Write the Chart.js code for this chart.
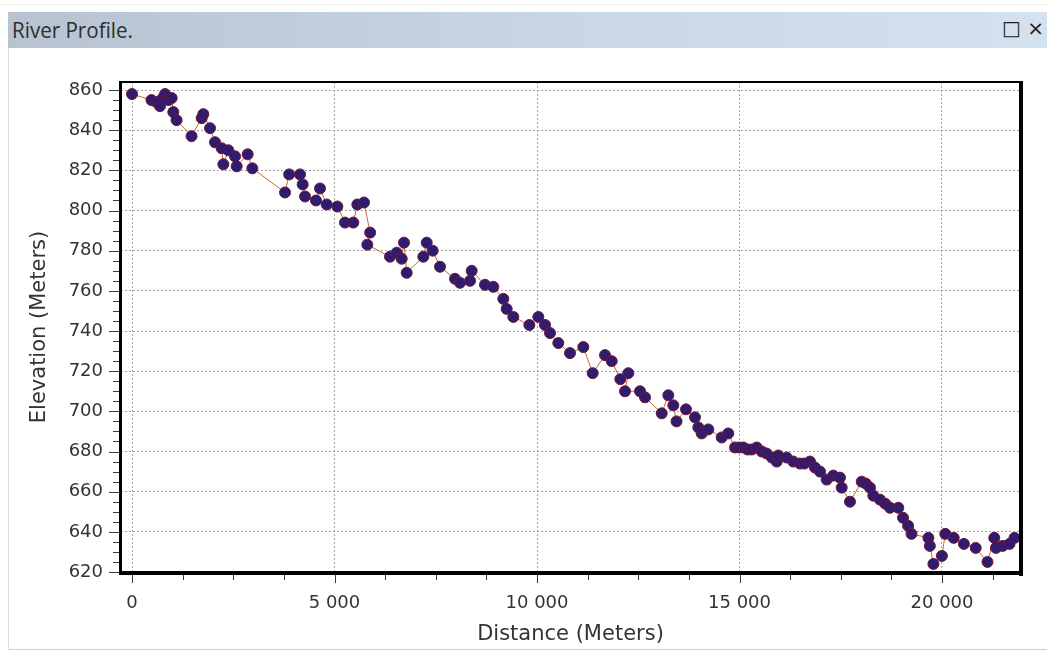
<!DOCTYPE html>
<html>
<head>
<meta charset="utf-8">
<script src="https://cdn.jsdelivr.net/npm/chart.js@4.4.0/dist/chart.umd.min.js"></script>
<style>
  html, body { margin: 0; padding: 0; background: #fff; }
  #wrap { position: relative; width: 1047px; height: 655px; overflow: hidden; }
  #topline { position: absolute; left: 0; top: 4px; width: 1047px; height: 1px; background: #ececec; }
  #bar { position: absolute; left: 8px; top: 12px; width: 1039px; height: 36px;
         background: linear-gradient(to right, #b7c3d0, #c9d6e4 55%, #d4e1ee); }
  #bar .t { position: absolute; left: 4px; top: 4px; font: 21px "Open Sans", sans-serif; color: #2e2e2e;
            transform: scaleX(0.98); transform-origin: left center; }
  #bar .i { position: absolute; left: 994px; top: 4px; font: 20px "DejaVu Sans", sans-serif; color: #222; white-space: nowrap; }
  #panel { position: absolute; left: 8px; top: 48px; width: 1039px; height: 601px;
           border-left: 1px solid #dcdcdc; border-bottom: 1px solid #cfcfcf; }
  canvas { position: absolute; left: 0; top: 0; }
</style>
</head>
<body>
<div id="wrap">
  <div id="topline"></div>
  <div id="bar"><span class="t">River Profile.</span><span class="i">&#9633; &#215;</span></div>
  <div id="panel"></div>
  <canvas id="profile" width="1047" height="655"></canvas>
</div>
<script>
// distance along the river (m) and elevation (m)
const distance = [
  0, 480, 600, 690, 760, 815, 900, 980, 1020, 1100,
  1470, 1720, 1761, 1926, 2049, 2214, 2255, 2379, 2543, 2584,
  2856, 2971, 3778, 3880, 4148, 4214, 4272, 4543, 4642, 4807,
  5070, 5259, 5464, 5564, 5728, 5880, 5810, 6370, 6535, 6659,
  6716, 6782, 7193, 7276, 7424, 7605, 7975, 8099, 8346, 8387,
  8716, 8921, 9168, 9251, 9415, 9811, 10033, 10198, 10321, 10526,
  10815, 11143, 11375, 11679, 11844, 12057, 12255, 12173, 12543, 12667,
  13079, 13242, 13366, 13445, 13679, 13901, 13983, 14066, 14230, 14560,
  14723, 14889, 14990, 15094, 15200, 15301, 15425, 15550, 15672, 15800,
  15919, 15958, 16165, 16328, 16494, 16600, 16741, 16864, 16988, 17153,
  17316, 17481, 17523, 17728, 18017, 18120, 18222, 18304, 18469, 18600,
  18716, 18921, 19037, 19163, 19247, 19664, 19700, 19788, 19998, 20081,
  20289, 20541, 20832, 21123, 21291, 21333, 21499, 21667, 21790
];
const elevation = [
  858, 855, 854, 852, 856, 858, 855, 856, 849, 845,
  837, 846, 848, 841, 834, 831, 823, 830, 827, 822,
  828, 821, 809, 818, 818, 813, 807, 805, 811, 803,
  802, 794, 794, 803, 804, 789, 783, 777, 779, 776,
  784, 769, 777, 784, 780, 772, 766, 764, 765, 770,
  763, 762, 756, 751, 747, 743, 747, 743, 739, 734,
  729, 732, 719, 728, 725, 716, 719, 710, 710, 707,
  699, 708, 703, 695, 701, 697, 692, 689, 691, 687,
  689, 682, 682, 682, 681, 681, 682, 680, 679, 677,
  675, 678, 677, 675, 674, 674, 675, 672, 670, 666,
  668, 667, 662, 655, 665, 664, 662, 658, 656, 654,
  652, 652, 647, 643, 639, 637, 633, 624, 628, 639,
  637, 634, 632, 625, 637, 632, 633, 634, 637
];

const xMajor = [0, 5000, 10000, 15000, 20000];
const xMinorStep = 1250;
const yMajor = [620, 640, 660, 680, 700, 720, 740, 760, 780, 800, 820, 840, 860];
const yMinorStep = 5;
const xRange = [-272, 21926];
const yRange = [620, 864];

const points = distance.map((d, i) => ({x: d, y: elevation[i]}));

const fmt = v => String(v).replace(/\B(?=(\d{3})+(?!\d))/g, ' ');

const xTickVals = [];
for (let v = 0; v <= xRange[1]; v += xMinorStep) xTickVals.push(v);
const yTickVals = [];
for (let v = yRange[0]; v <= yRange[1]; v += yMinorStep) yTickVals.push(v);

// frame round the plot plus the major/minor tick marks
const frame = {
  id: 'frame',
  afterDraw(chart) {
    const {ctx, chartArea: a, scales: {x, y}} = chart;
    ctx.save();
    ctx.strokeStyle = '#3a3a3a';
    ctx.lineWidth = 1;
    ctx.beginPath();
    xTickVals.forEach(v => {
      const px = Math.round(x.getPixelForValue(v)) + 0.5;
      const len = xMajor.includes(v) ? 9 : 6;
      ctx.moveTo(px, a.bottom);
      ctx.lineTo(px, a.bottom + 2 + len);
    });
    yTickVals.forEach(v => {
      const py = Math.round(y.getPixelForValue(v)) + 0.5;
      const len = yMajor.includes(v) ? 10 : 6;
      ctx.moveTo(a.left, py);
      ctx.lineTo(a.left - 2 - len, py);
    });
    ctx.stroke();
    ctx.fillStyle = '#000';
    ctx.fillRect(a.left - 2, a.top - 1, a.right - a.left + 4, 2);
    ctx.fillRect(a.left - 2, a.top - 1, 3, a.bottom - a.top + 4);
    ctx.fillRect(a.right - 1, a.top - 1, 4, a.bottom - a.top + 5);
    ctx.fillRect(a.left - 2, a.bottom - 1, a.right - a.left + 5, 4);
    ctx.restore();
  }
};

new Chart(document.getElementById('profile'), {
  type: 'scatter',
  data: {
    datasets: [{
      label: 'River profile',
      data: points,
      showLine: true,
      borderColor: '#c8682e',
      borderWidth: 1,
      pointRadius: 5.5,
      pointBackgroundColor: '#2f1c6e',
      pointBorderColor: '#6e1637',
      pointBorderWidth: 1
    }]
  },
  options: {
    responsive: false,
    animation: false,
    layout: { padding: { top: 82, right: 27, left: 0, bottom: 0 } },
    plugins: { legend: { display: false }, tooltip: { enabled: false } },
    scales: {
      x: {
        type: 'linear',
        min: xRange[0],
        max: xRange[1],
        afterFit: s => { s.height = 83; },
        afterBuildTicks: s => { s.ticks = xTickVals.map(v => ({value: v})); },
        grid: {
          drawTicks: false,
          color: c => (c.tick && xMajor.includes(c.tick.value)) ? '#a3a3a3' : 'rgba(0,0,0,0)',
          lineWidth: 1
        },
        border: { display: false, dash: [2, 2] },
        ticks: {
          autoSkip: false,
          maxRotation: 0,
          padding: 21,
          color: '#333',
          font: { family: 'DejaVu Sans', size: 18 },
          callback: v => xMajor.includes(v) ? fmt(v) : ''
        },
        title: {
          display: true,
          text: 'Distance (Meters)',
          color: '#333',
          font: { family: 'DejaVu Sans', size: 21 },
          padding: { top: 0, bottom: 8 }
        }
      },
      y: {
        type: 'linear',
        min: yRange[0],
        max: yRange[1],
        afterFit: s => { s.width = 121; },
        afterBuildTicks: s => { s.ticks = yTickVals.map(v => ({value: v})); },
        grid: {
          drawTicks: false,
          color: c => (c.tick && yMajor.includes(c.tick.value)) ? '#a3a3a3' : 'rgba(0,0,0,0)',
          lineWidth: 1
        },
        border: { display: false, dash: [2, 2] },
        ticks: {
          autoSkip: false,
          padding: 18,
          color: '#333',
          font: { family: 'DejaVu Sans', size: 18 },
          callback: v => yMajor.includes(v) ? String(v) : ''
        },
        title: {
          display: true,
          text: 'Elevation (Meters)',
          color: '#333',
          font: { family: 'DejaVu Sans', size: 21 },
          padding: { top: 27, bottom: 0 }
        }
      }
    }
  },
  plugins: [frame]
});
</script>
</body>
</html>
